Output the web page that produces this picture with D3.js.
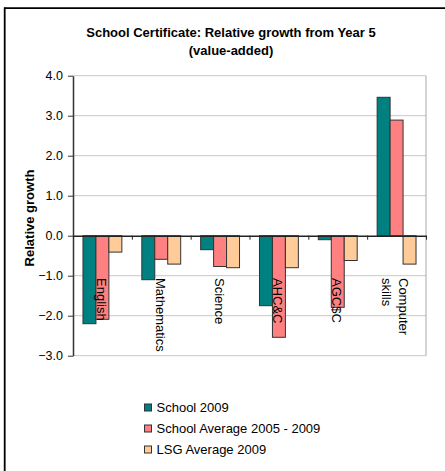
<!DOCTYPE html>
<html><head><meta charset="utf-8">
<script src="https://cdn.jsdelivr.net/npm/d3@7"></script>
<style>html,body{margin:0;padding:0;background:#fff;overflow:hidden}svg{display:block;font-family:"Liberation Sans",Arial,sans-serif}</style>
</head><body><svg id="c" width="445" height="471"></svg>
<script>
const categories = [["English"],["Mathematics"],["Science"],["AHC&C"],["AGC$C"],["Computer","skills"]];
const seriesNames = ["School 2009","School Average 2005 - 2009","LSG Average 2009"];
const school2009 = [-2.2,-1.1,-0.35,-1.75,-0.1,3.46];
const schoolAvg = [-2.09,-0.59,-0.77,-2.54,-1.79,2.89];
const lsgAvg = [-0.41,-0.71,-0.8,-0.8,-0.62,-0.71];
const yTicks = [4,3,2,1,0,-1,-2,-3];
const colors = ["#008080","#FF8080","#FFCC99"];
const series = [school2009, schoolAvg, lsgAvg];

const svg = d3.select("#c");
// outer frame (only left and top edges are visible in the picture)
svg.append("line").attr("x1",4.7).attr("x2",4.7).attr("y1",7.5).attr("y2",471).attr("stroke","#000").attr("stroke-width",1.8);
svg.append("line").attr("x1",4).attr("x2",445).attr("y1",8.2).attr("y2",8.2).attr("stroke","#000").attr("stroke-width",1.8);

const L=73, R=426, T=75.7, B=355.7;
const y = d3.scaleLinear().domain([-3,4]).range([B,T]);
const x0 = d3.scaleBand().domain(d3.range(categories.length)).range([L,R]).paddingInner(0).paddingOuter(0);
const x1 = d3.scaleBand().domain(d3.range(3)).range([0,x0.bandwidth()]).paddingOuter(0.77).paddingInner(0);

// title
const title = svg.append("text").attr("text-anchor","middle").attr("font-weight","bold").attr("font-size",13).attr("fill","#000");
title.append("tspan").attr("x",231).attr("y",36.5).text("School Certificate: Relative growth from Year 5");
title.append("tspan").attr("x",231).attr("y",54.5).text("(value-added)");

// gridlines
svg.append("g").selectAll("line").data(yTicks.filter(d=>d!==0)).join("line")
  .attr("x1",L).attr("x2",R).attr("y1",d=>y(d)).attr("y2",d=>y(d))
  .attr("stroke","#c8c8c8").attr("stroke-width",1);
// plot border right
svg.append("line").attr("x1",R).attr("x2",R).attr("y1",T).attr("y2",B).attr("stroke","#a8a8a8");

// bars
const g = svg.append("g");
series.forEach((s,si)=>{
  g.selectAll(null).data(s).join("rect")
    .attr("x",(d,i)=>x0(i)+x1(si))
    .attr("width",x1.bandwidth())
    .attr("y",d=>y(Math.max(0,d)))
    .attr("height",d=>Math.abs(y(d)-y(0)))
    .attr("fill",colors[si]).attr("stroke","#333").attr("stroke-width",1);
});

// y axis
const yAxis = d3.axisLeft(y).tickValues(yTicks).tickFormat(d3.format(".1f")).tickSize(5).tickPadding(5).tickSizeOuter(0);
const ya = svg.append("g").attr("transform",`translate(${L},0)`).call(yAxis);
ya.select(".domain").attr("stroke","#333").attr("stroke-width",1.5);
ya.selectAll(".tick line").attr("stroke","#333");
ya.selectAll(".tick text").attr("font-size",12.5).attr("fill","#000").attr("font-family","Liberation Sans, Arial, sans-serif");

// zero axis
const xAxis = d3.axisBottom(d3.scaleLinear().domain([0,6]).range([L,R])).ticks(6).tickFormat("").tickSize(4).tickSizeOuter(0);
const xa = svg.append("g").attr("transform",`translate(0,${y(0)})`).call(xAxis);
xa.select(".domain").attr("stroke","#222").attr("stroke-width",1.5);
xa.selectAll(".tick line").attr("stroke","#222");

// category labels
categories.forEach((lines,i)=>{
  const cx = x0(i)+x0.bandwidth()/2;
  const n = lines.length;
  lines.forEach((t,li)=>{
    const off = (n===1)?-1:(li===0? 6.5 : -10.5);
    svg.append("text")
      .attr("transform",`translate(${cx+off},278) rotate(90)`)
      .attr("dy","0.35em").attr("font-size",13).attr("fill","#000")
      .text(t);
  });
});

// y title
svg.append("text").attr("transform",`translate(29,218) rotate(-90)`).attr("text-anchor","middle")
  .attr("dy","0.35em").attr("font-weight","bold").attr("font-size",13).text("Relative growth");

// legend
const lg = svg.append("g");
seriesNames.forEach((n,i)=>{
  const yy = 407.5 + i*21;
  lg.append("rect").attr("x",144.5).attr("y",yy-3.5).attr("width",7).attr("height",7)
    .attr("fill",colors[i]).attr("stroke","#333");
  lg.append("text").attr("x",156.5).attr("y",yy).attr("dy","0.35em").attr("font-size",13).text(n);
});
</script></body></html>
